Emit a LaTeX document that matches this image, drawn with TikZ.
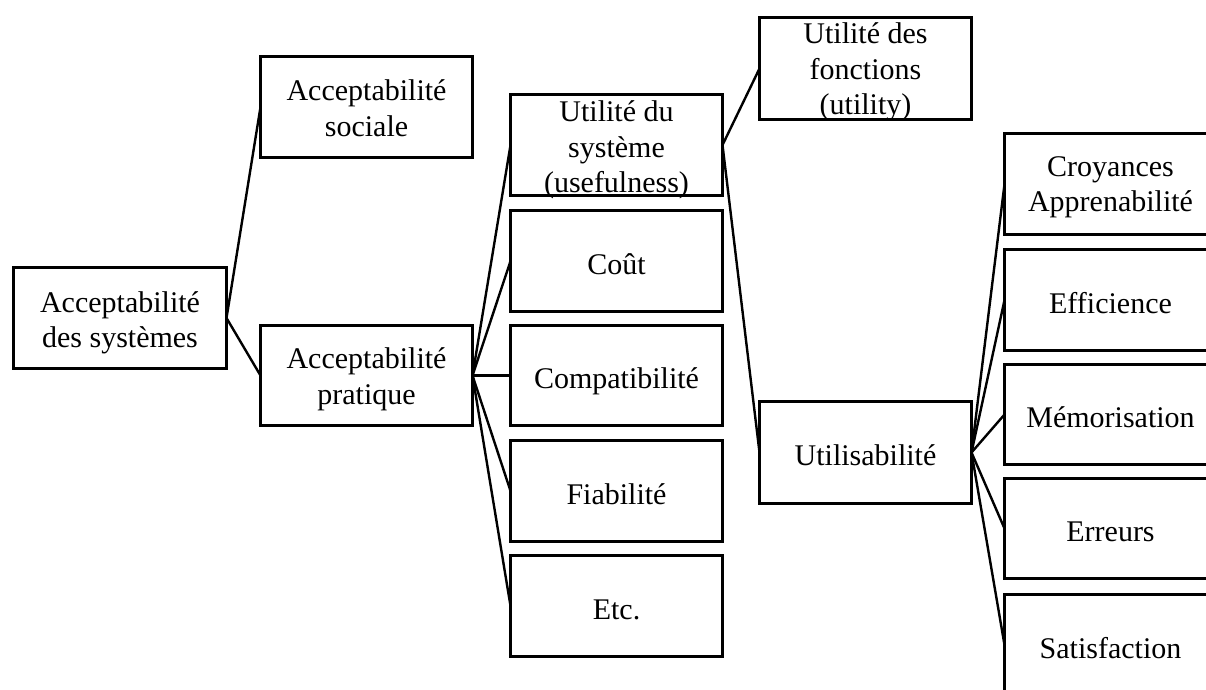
\documentclass[tikz,border=0pt]{standalone}
\usepackage{fontspec}
\setmainfont{Liberation Serif}
\newcommand{\topst}{\rule{0pt}{26.9pt}}
\newcommand{\botst}{\rule[-7pt]{0pt}{7pt}}
\begin{document}
\begin{tikzpicture}[x=1pt,y=-1pt,
  box/.style={draw=black, line width=3.1pt, rectangle, inner sep=0pt, outer sep=0pt,
    minimum width=212pt, minimum height=101pt},
  txt/.style={inner sep=0pt, outer sep=0pt, align=center,
    font=\fontsize{30}{35.5}\selectfont,
    execute at begin node=\topst, execute at end node=\botst},
  link/.style={draw=black, line width=2.4pt}]
\clip (0,0) rectangle (1206,689);
\fill[white] (0,0) rectangle (1206,689);
% column 1
\node[box, minimum width=213pt] (sys) at (120,318) {};
% column 2
\node[box] (soc) at (366.5,107) {};
\node[box, minimum height=100pt] (pra) at (366.5,375.5) {};
% column 3
\node[box] (use) at (616.5,145) {};
\node[box] (cout) at (616.5,261) {};
\node[box, minimum height=100pt] (compat) at (616.5,375.5) {};
\node[box] (fiab) at (616.5,491) {};
\node[box] (etc) at (616.5,606) {};
% column 4
\node[box, minimum height=102pt] (utility) at (865.5,68.5) {};
\node[box, minimum height=102pt] (utilis) at (865.5,452.5) {};
% column 5
\node[box] (cro) at (1110.5,184) {};
\node[box] (eff) at (1110.5,300) {};
\node[box, minimum height=100pt] (mem) at (1110.5,414.5) {};
\node[box, minimum height=100pt] (err) at (1110.5,528.5) {};
\node[box] (sat) at (1110.5,645) {};
% texts
\node[txt] (sys-t) at ([yshift=-5pt]sys.center) {Acceptabilité\\des systèmes};
\node[txt] (soc-t) at ([yshift=-4.5pt]soc.center) {Acceptabilité\\sociale};
\node[txt] (pra-t) at ([yshift=-4pt]pra.center) {Acceptabilité\\pratique};
\node[txt] (use-t) at ([yshift=-5.5pt]use.center) {Utilité du\\système\\(usefulness)};
\node[txt] (cout-t) at ([yshift=-3.5pt]cout.center) {Coût};
\node[txt] (compat-t) at ([yshift=-3.5pt]compat.center) {Compatibilité};
\node[txt] (fiab-t) at ([yshift=-3.5pt]fiab.center) {Fiabilité};
\node[txt] (etc-t) at ([yshift=-3.5pt]etc.center) {Etc.};
\node[txt] (utility-t) at ([yshift=-4pt]utility.center) {Utilité des\\fonctions\\(utility)};
\node[txt] (utilis-t) at ([yshift=-3.5pt]utilis.center) {Utilisabilité};
\node[txt] (cro-t) at ([yshift=-3.5pt]cro.center) {Croyances\\Apprenabilité};
\node[txt] (eff-t) at ([yshift=-3.5pt]eff.center) {Efficience};
\node[txt] (mem-t) at ([yshift=-3.5pt]mem.center) {Mémorisation};
\node[txt] (err-t) at ([yshift=-3.5pt]err.center) {Erreurs};
\node[txt] (sat-t) at ([yshift=-3.5pt]sat.center) {Satisfaction};
% connectors
\draw[link] (sys.east) -- (soc.west);
\draw[link] (sys.east) -- (pra.west);
\draw[link] (pra.east) -- (use.west);
\draw[link] (pra.east) -- (cout.west);
\draw[link] (pra.east) -- (compat.west);
\draw[link] (pra.east) -- (fiab.west);
\draw[link] (pra.east) -- (etc.west);
\draw[link] (use.east) -- (utility.west);
\draw[link] (use.east) -- (utilis.west);
\draw[link] (utilis.east) -- (cro.west);
\draw[link] (utilis.east) -- (eff.west);
\draw[link] (utilis.east) -- (mem.west);
\draw[link] (utilis.east) -- (err.west);
\draw[link] (utilis.east) -- (sat.west);
\end{tikzpicture}
\end{document}
